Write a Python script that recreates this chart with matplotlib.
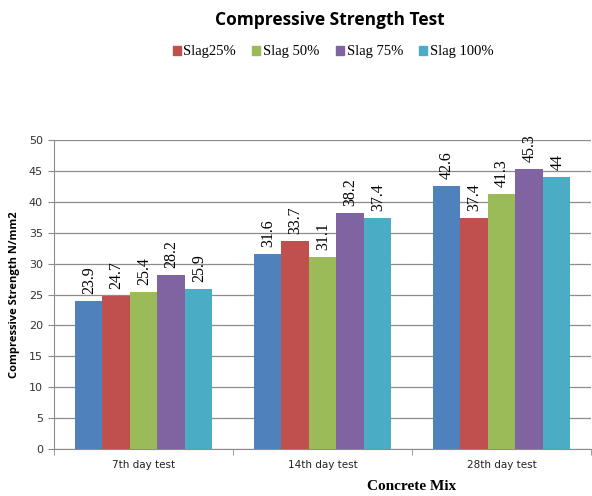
import matplotlib
matplotlib.use("Agg")
import matplotlib.pyplot as plt
import numpy as np
from matplotlib.patches import Patch

categories = ["7th day test", "14th day test", "28th day test"]
series_names = ["Control", "Slag25%", "Slag 50%", "Slag 75%", "Slag 100%"]
control = [23.9, 31.6, 42.6]
slag25 = [24.7, 33.7, 37.4]
slag50 = [25.4, 31.1, 41.3]
slag75 = [28.2, 38.2, 45.3]
slag100 = [25.9, 37.4, 44]
labels_txt = [["23.9", "31.6", "42.6"], ["24.7", "33.7", "37.4"], ["25.4", "31.1", "41.3"],
              ["28.2", "38.2", "45.3"], ["25.9", "37.4", "44"]]
yticks = [0, 5, 10, 15, 20, 25, 30, 35, 40, 45, 50]

colors = ["#4F81BD", "#C0504D", "#9BBB59", "#8064A2", "#4BACC6"]
values = [control, slag25, slag50, slag75, slag100]

fig = plt.figure(figsize=(5.92, 4.96), dpi=100)
ax = fig.add_axes([54/592, 1-449/496, 537/592, 309/496])

n = len(values)
bw = 1/(n+1.5)
x = np.arange(len(categories))
for i, (vals, c) in enumerate(zip(values, colors)):
    pos = x + (i - (n-1)/2)*bw
    ax.bar(pos, vals, width=bw, color=c, zorder=3, edgecolor="none")
    for p, v, t in zip(pos, vals, labels_txt[i]):
        ax.annotate(t, (p, v), xytext=(0.5, 5), textcoords="offset points",
                    rotation=90, ha="center", va="bottom", fontsize=11.5,
                    family="Liberation Serif", zorder=4)

ax.set_xlim(-0.5, len(categories)-0.5)
ax.set_ylim(0, 50)
ax.set_yticks(yticks)
ax.yaxis.grid(True, color="#8c8c8c", linewidth=0.9, zorder=0)
ax.set_xticks(x)
ax.set_xticklabels(categories, fontsize=7.5, family="DejaVu Sans", color="#222222")
ax.set_xticks(np.arange(len(categories)+1)-0.5, minor=True)
ax.tick_params(axis="x", which="major", length=0, pad=8)
ax.tick_params(axis="x", which="minor", length=4, color="#8c8c8c")
ax.tick_params(axis="y", length=4, color="#8c8c8c", labelsize=8, labelcolor="#333333", pad=4)
for lab in ax.get_yticklabels():
    lab.set_family("DejaVu Sans")
for s in ["top", "right"]:
    ax.spines[s].set_visible(False)
for s in ["left", "bottom"]:
    ax.spines[s].set_color("#8c8c8c")

ax.set_ylabel("Compressive Strength N/mm2", fontsize=8, fontweight="bold", family="Open Sans", labelpad=6)
fig.text(412/592, 1-486/496, "Concrete Mix", ha="center", va="center",
         fontsize=11, fontweight="bold", family="Liberation Serif")

fig.text(330/592, 1-20/496, "Compressive Strength Test", ha="center", va="center",
         fontsize=12.5, fontweight="bold", family="Open Sans")

handles = [Patch(color=c) for c in colors[1:]]
fig.legend(handles, series_names[1:], loc="center", bbox_to_anchor=(333/592, 1-52/496),
           ncol=4, frameon=False, prop={"family": "Liberation Serif", "size": 10.5},
           handlelength=0.55, handleheight=0.6, handletextpad=0.2, columnspacing=1.1)

fig.savefig("out.png", dpi=100)
